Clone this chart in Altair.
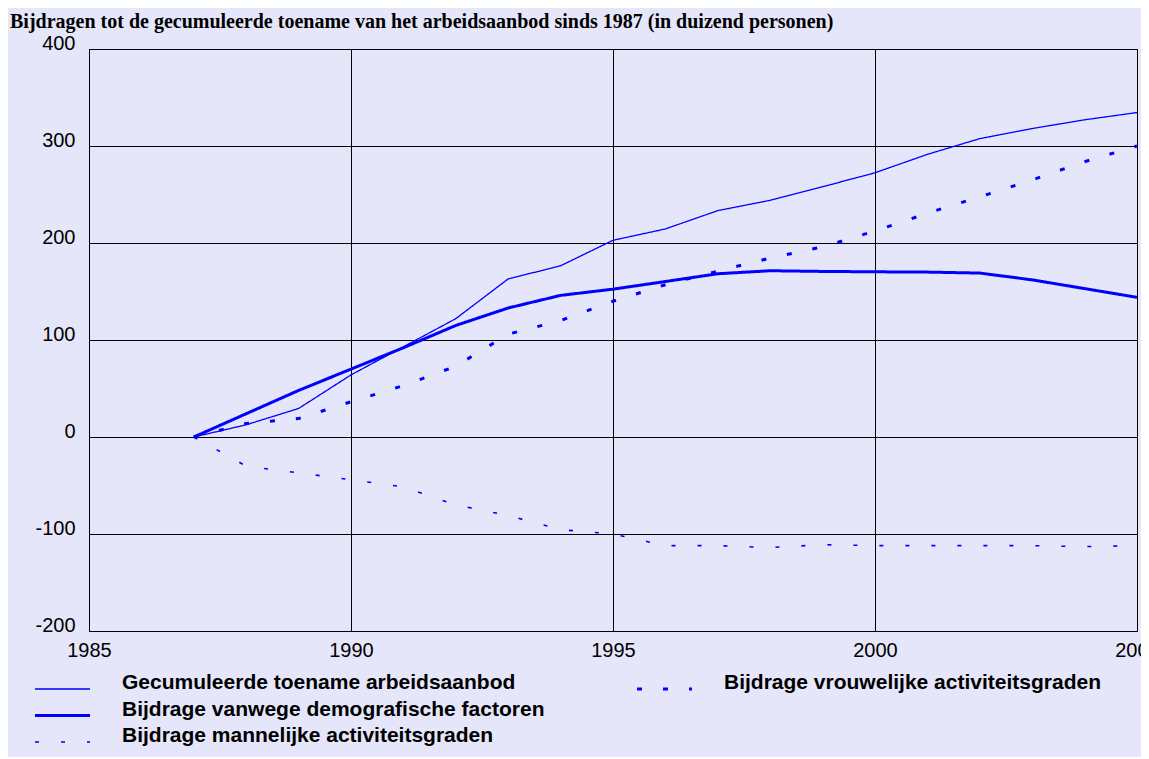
import altair as alt
import pandas as pd

years = list(range(1987, 2006))
totaal = [0, 12.6, 29.4, 64, 93, 122, 163, 176.5, 202.8, 214.5, 233.4, 244, 258,
          272.4, 291.4, 307.6, 318, 327, 334.5]
demografie = [0, 24, 48, 70, 92, 115, 133, 146, 152.4, 160.3, 168.3, 171.4, 170.7,
              170.3, 170, 169, 162, 153, 144]
mannen = [0, -30, -37, -44, -51.5, -70, -81, -95.5, -100, -112, -112, -114, -111,
          -112, -112, -112, -112, -113, -112]
vrouwen = [0, 14, 19, 36.3, 53, 73, 106, 120, 140, 157, 171, 184.5, 196, 212.4,
           230.7, 247.6, 265, 283.8, 300]

names = [
    "Gecumuleerde toename arbeidsaanbod",
    "Bijdrage vanwege demografische factoren",
    "Bijdrage mannelijke activiteitsgraden",
    "Bijdrage vrouwelijke activiteitsgraden",
]
dashes = [[1, 0], [1, 0], [4, 22], [5, 21]]
widths = [1.3, 3, 1.6, 3]
legend_col = [0, 0, 0, 1]
legend_row = [0, 1, 2, 0]

x_ticks = [1985, 1990, 1995, 2000, 2005]
y_ticks = [-200, -100, 0, 100, 200, 300, 400]

title_text = "Bijdragen tot de gecumuleerde toename van het arbeidsaanbod sinds 1987 (in duizend personen)"

series_values = [totaal, demografie, mannen, vrouwen]
rows = []
for name, vals in zip(names, series_values):
    for yr, v in zip(years, vals):
        rows.append({"year": yr, "value": v, "series": name})
df = pd.DataFrame(rows)

leg_df = pd.DataFrame({"series": names, "col": legend_col, "row": legend_row})
leg_df["col2"] = leg_df["col"] + 55 / 602

BLUE = "#0000FF"
dash_enc = alt.StrokeDash("series:N", scale=alt.Scale(domain=names, range=dashes), legend=None)
width_enc = alt.StrokeWidth("series:N", scale=alt.Scale(type="ordinal", domain=names, range=widths), legend=None)

lines = alt.Chart(df).mark_line(color=BLUE).encode(
    x=alt.X("year:Q", scale=alt.Scale(domain=[1985, 2005], nice=False, zero=False),
            axis=alt.Axis(values=x_ticks, labelExpr="'' + datum.value", title=None,
                          ticks=False, domain=False,
                          grid=True, gridColor="black", gridWidth=1,
                          labelFont="Liberation Sans", labelFontSize=20, labelColor="black",
                          labelPadding=9, labelFlush=False, labelOverlap=False)),
    y=alt.Y("value:Q", scale=alt.Scale(domain=[-200, 400], nice=False, zero=False),
            axis=alt.Axis(values=y_ticks, labelExpr="'' + datum.value", title=None,
                          ticks=False, domain=False,
                          grid=True, gridColor="black", gridWidth=1,
                          labelFont="Liberation Sans", labelFontSize=20, labelColor="black",
                          labelPadding=14, labelBaseline="alphabetic", labelFlush=False,
                          labelOverlap=False)),
    strokeDash=dash_enc,
    strokeWidth=width_enc,
    detail="series:N",
)

leg_x = alt.Scale(domain=[0, 1], range=[-54, 548])
leg_y = alt.Scale(domain=[0, 2], range=[640, 693])

samples = alt.Chart(leg_df).mark_rule(color=BLUE).encode(
    x=alt.X("col:Q", scale=leg_x, axis=None),
    x2="col2:Q",
    y=alt.Y("row:Q", scale=leg_y, axis=None),
    strokeDash=dash_enc,
    strokeWidth=width_enc,
)
texts = alt.Chart(leg_df).mark_text(
    align="left", baseline="middle", dx=87, dy=-6,
    font="Liberation Sans", fontSize=21, fontWeight="bold", color="black",
).encode(
    x=alt.X("col:Q", scale=leg_x, axis=None),
    y=alt.Y("row:Q", scale=leg_y, axis=None),
    text="series:N",
)

legend = alt.layer(samples, texts)

chart = alt.layer(lines, legend).resolve_scale(
    x="independent", y="independent"
).properties(
    width=1048,
    height=582,
    autosize=alt.AutoSizeParams(type="none"),
    padding={"left": 81, "top": 41, "right": 4, "bottom": 126},
    background="#E6E6FA",
    title=alt.TitleParams(title_text, anchor="start", frame="group", dx=-79,
                          font="Liberation Serif", fontSize=20, fontWeight="bold",
                          color="black", offset=1),
).configure_view(stroke="black", strokeWidth=1)

chart.save("out.html", embed_options={"renderer": "svg", "actions": False})
